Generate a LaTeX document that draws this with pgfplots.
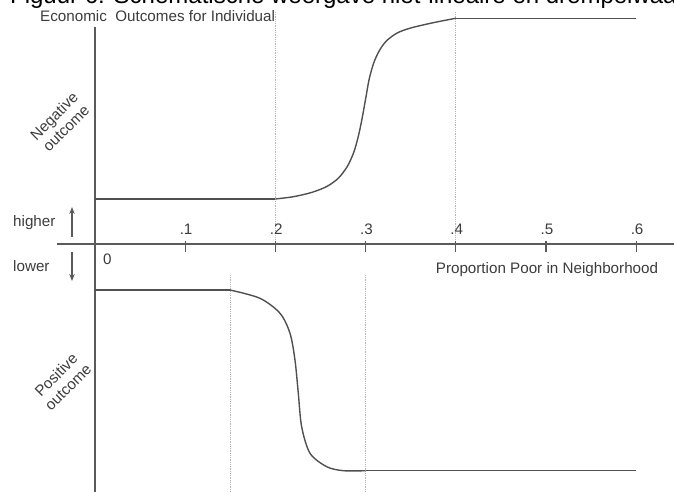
\documentclass[border=0pt]{standalone}
\usepackage{pgfplots}
\pgfplotsset{compat=1.18}
\usetikzlibrary{arrows.meta}
\usepackage{fontspec}
\setmainfont{Liberation Sans}
\definecolor{txt}{HTML}{3C3C3C}
\definecolor{ax}{HTML}{5A5A5A}
\definecolor{crv}{HTML}{505050}
\definecolor{dotc}{HTML}{B4B4B4}
\begin{document}
\begin{tikzpicture}
\begin{axis}[
  width=674bp, height=492bp, scale only axis,
  xmin=-0.10532, xmax=0.64191, ymin=-248, ymax=244,
  hide axis, clip=false,
]
\coordinate (BL) at (rel axis cs:0,0);
\coordinate (TR) at (rel axis cs:1,1);
% big (cut) title
\node[anchor=base west, font=\fontsize{24bp}{28bp}\selectfont, text=black, inner sep=0pt]
  at (axis cs:-0.0943,240) {Figuur 6: Schematische weergave niet-lineaire en drempelwaarde-effecten};
% dotted guide lines
\draw[dotc, line width=0.9bp, dash pattern=on 1bp off 0.8bp] (axis cs:0.2,232) -- (axis cs:0.2,0);
\draw[dotc, line width=0.9bp, dash pattern=on 1bp off 0.8bp] (axis cs:0.4,232) -- (axis cs:0.4,0);
\draw[dotc, line width=0.9bp, dash pattern=on 1bp off 0.8bp] (axis cs:0.15,-31) -- (axis cs:0.15,-248);
\draw[dotc, line width=0.9bp, dash pattern=on 1bp off 0.8bp] (axis cs:0.3,-31) -- (axis cs:0.3,-248);
% axes
\draw[ax, line width=1.3bp] (axis cs:-0.0421,0) -- (axis cs:0.64191,0);
\draw[ax, line width=1.3bp] (axis cs:0,217) -- (axis cs:0,-248);
% ticks
\draw[ax, line width=1.2bp] (axis cs:0.1,3) -- (axis cs:0.1,-8);
\draw[ax, line width=1.2bp] (axis cs:0.2,3) -- (axis cs:0.2,-8);
\draw[ax, line width=1.2bp] (axis cs:0.3,3) -- (axis cs:0.3,-8);
\draw[ax, line width=1.2bp] (axis cs:0.4,3) -- (axis cs:0.4,-8);
\draw[ax, line width=1.2bp] (axis cs:0.5,3) -- (axis cs:0.5,-8);
\draw[ax, line width=1.2bp] (axis cs:0.6,3) -- (axis cs:0.6,-8);
\begin{scope}[every node/.style={font=\fontsize{15.2bp}{17bp}\selectfont, text=txt, inner sep=0pt}]
\node[anchor=base] at (axis cs:0.101,9.5) {.1};
\node[anchor=base] at (axis cs:0.201,9.5) {.2};
\node[anchor=base] at (axis cs:0.301,9.5) {.3};
\node[anchor=base] at (axis cs:0.401,9.5) {.4};
\node[anchor=base] at (axis cs:0.501,9.5) {.5};
\node[anchor=base] at (axis cs:0.601,9.5) {.6};
\node[anchor=base] at (axis cs:0.0137,-21) {0};
\node[anchor=base] at (axis cs:0.5011,-29.3) {Proportion Poor in Neighborhood};
\node[anchor=base west] at (axis cs:-0.061,222.3) {Economic\ \ Outcomes for Individual};
\node[anchor=base west] at (axis cs:-0.0909,17.3) {higher};
\node[anchor=base west] at (axis cs:-0.0909,-27.7) {lower};
\node[rotate=45, align=center] at (axis cs:-0.0388,122) {Negative\\outcome};
\node[rotate=45, align=center] at (axis cs:-0.0366,-137) {Positive\\outcome};
\end{scope}
% arrows
\draw[ax, line width=1.3bp, -{Stealth[length=7bp,width=5.5bp]}] (axis cs:-0.0255,7) -- (axis cs:-0.0255,37);
\draw[ax, line width=1.3bp, -{Stealth[length=7bp,width=5.5bp]}] (axis cs:-0.0255,-8) -- (axis cs:-0.0255,-37);
% negative outcome curve (top)
\addplot[crv, line width=1.4bp, no marks] coordinates {(0,45) (0.2,45)};
\addplot[crv, line width=1.4bp, no marks, smooth] coordinates {
 (0.2,45) (0.22,47.3) (0.24,51.5) (0.257,57.5) (0.27,66) (0.28,78) (0.287,92)
 (0.292,108) (0.296,125) (0.3,145) (0.304,165) (0.309,181) (0.315,193) (0.323,203)
 (0.335,211) (0.35,216) (0.375,221.3) (0.4,225.7)};
\addplot[crv, line width=1.4bp, no marks] coordinates {(0.4,225.7) (0.6,225.7)};
% positive outcome curve (bottom)
\addplot[crv, line width=1.4bp, no marks] coordinates {(0,-46) (0.1497,-46)};
\addplot[crv, line width=1.4bp, no marks, smooth] coordinates {
 (0.1497,-46) (0.1829,-54.3) (0.2051,-69.3) (0.2162,-89.3) (0.2217,-116) (0.2254,-149.3)
 (0.2291,-182.7) (0.2384,-209.3) (0.2569,-222.7) (0.2753,-226.7) (0.3,-226.7)};
\addplot[crv, line width=1.4bp, no marks] coordinates {(0.3,-226.7) (0.6,-226.7)};
\end{axis}
\pgfresetboundingbox
\path[use as bounding box] (BL) rectangle (TR);
\end{tikzpicture}
\end{document}
